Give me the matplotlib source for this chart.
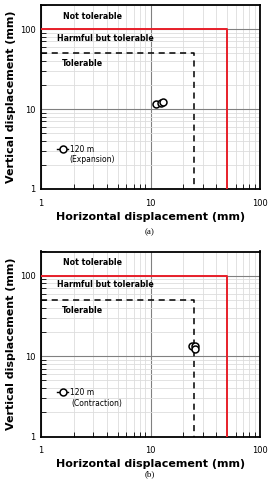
import matplotlib
matplotlib.use("Agg")
import matplotlib.pyplot as plt
from matplotlib.ticker import LogLocator, NullFormatter, FixedLocator, FixedFormatter

# data
exp_h = [11.2, 12.6, 13.1]
exp_v = [11.4, 11.8, 12.2]
con_h = [24.0, 25.5, 25.6]
con_v = [13.3, 13.2, 12.4]
limit_not_h, limit_not_v = 50, 100      # not tolerable boundary
limit_tol_h, limit_tol_v = 25, 50       # tolerable boundary
xticks = [1, 10, 100]
xticklabels = ["1", "10", "100"]
yticks = [1, 10, 100]
yticklabels = ["1", "10", "100"]
series_label = "120 m"
cases = ["(Expansion)", "(Contraction)"]
captions = ["(a)", "(b)"]
zones = ["Not tolerable", "Harmful but tolerable", "Tolerable"]

W, H = 272, 490
fig = plt.figure(figsize=(W / 100, H / 100), dpi=100)

def add_ax(left, top, right, bottom):
    return fig.add_axes([left / W, 1 - bottom / H, (right - left) / W, (bottom - top) / H])

panels = [
    (add_ax(41, 5, 260, 189), exp_h, exp_v, 232, 0.217, 0.163, 0.128),
    (add_ax(41, 251.5, 260, 436.5), con_h, con_v, 474, 0.237, 0.177, 0.137),
]

for i, (ax, hx, vy, cap_y, leg_y, case_y, case_x) in enumerate(panels):
    ax.set_xscale("log")
    ax.set_yscale("log")
    ax.set_xlim(1, 100)
    ax.set_ylim(1, 200)
    ax.xaxis.set_major_locator(FixedLocator(xticks))
    ax.xaxis.set_major_formatter(FixedFormatter(xticklabels))
    ax.yaxis.set_major_locator(FixedLocator(yticks))
    ax.yaxis.set_major_formatter(FixedFormatter(yticklabels))
    ax.xaxis.set_minor_locator(LogLocator(base=10, subs=range(2, 10)))
    ax.yaxis.set_minor_locator(LogLocator(base=10, subs=range(2, 10)))
    ax.xaxis.set_minor_formatter(NullFormatter())
    ax.yaxis.set_minor_formatter(NullFormatter())
    ax.grid(which="major", color="#808080", linewidth=0.8)
    ax.grid(which="minor", color="#dddddd", linewidth=0.6)
    ax.set_axisbelow(True)
    ax.tick_params(which="both", direction="in", labelsize=6, colors="black", pad=4)
    ax.tick_params(which="major", length=0)
    ax.tick_params(which="minor", length=3.5, width=0.6)
    ax.tick_params(axis="x", pad=7)
    for s in ax.spines.values():
        s.set_linewidth(1.3)

    # boundaries
    ax.plot([1, limit_not_h, limit_not_h], [limit_not_v, limit_not_v, 1],
            color="#e8202a", linewidth=1.4, zorder=3)
    ax.plot([1, limit_tol_h, limit_tol_h], [limit_tol_v, limit_tol_v, 1],
            color="black", linewidth=1.1, linestyle=(0, (4, 3)), zorder=3)

    ax.plot(hx, vy, linestyle="-", color="black", marker="o", markersize=5,
            markerfacecolor="white", markeredgewidth=1.1, linewidth=1.0,
            label=series_label, zorder=4)

    ax.text(1.6, 145, zones[0], fontsize=5.7, fontweight="bold", va="center", ha="left")
    ax.text(1.4, 77, zones[1], fontsize=5.7, fontweight="bold", va="center", ha="left")
    ax.text(1.55, 37, zones[2], fontsize=5.7, fontweight="bold", va="center", ha="left")

    ax.legend(loc="center left", bbox_to_anchor=(0.075, leg_y), frameon=False,
              fontsize=5.5, handlelength=1.4, handletextpad=0.2, borderpad=0,
              borderaxespad=0)
    ax.text(case_x, case_y, cases[i], transform=ax.transAxes,
            fontsize=5.5, va="center", ha="left")

    ax.set_xlabel("Horizontal displacement (mm)", fontsize=8, fontweight="bold", labelpad=3)
    ax.set_ylabel("Vertical displacement (mm)", fontsize=8, fontweight="bold", labelpad=3)

    fig.text(150 / W, 1 - cap_y / H, captions[i], fontsize=6.5, family="Liberation Serif",
             ha="center", va="center")

fig.savefig("out.png", dpi=100)
